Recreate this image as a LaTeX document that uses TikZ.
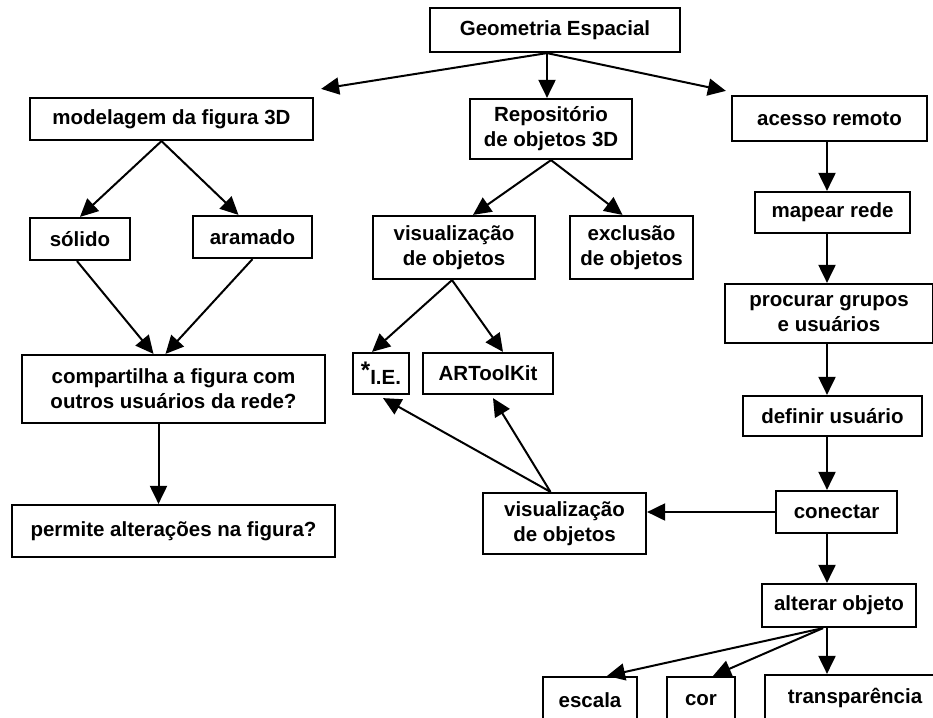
\documentclass[tikz,border=0pt]{standalone}
\usepackage{fontspec}
\setmainfont{Liberation Sans}
\usetikzlibrary{arrows.meta,calc}
\begin{document}
\begin{tikzpicture}[x=1pt,y=-1pt,
  box/.style={draw,line width=2.2pt,inner sep=0pt,align=center,
    font=\fontsize{20.5}{25}\selectfont\bfseries},
  arr/.style={line width=2pt,-{Triangle[length=18pt,width=17pt]}}]
\useasboundingbox (0,0) rectangle (933,717);
\clip (0,0) rectangle (933,717);
\fill[white] (0,0) rectangle (933,717);
\coordinate (colx) at (827,0);
% nodes
\node[box,minimum width=250,minimum height=44] (geo) at (555,30) {Geometria Espacial};
\node[box,minimum width=283,minimum height=42] (mod) at (171.5,119) {modelagem da figura 3D};
\node[box,minimum width=162,minimum height=60] (rep) at (551,129) {Repositório\\de objetos 3D};
\node[box,minimum width=195,minimum height=45] (ace) at (829.5,118.5) {acesso remoto};
\node[box,minimum width=100,minimum height=42] (sol) at (80,239) {sólido};
\node[box,minimum width=119,minimum height=42] (ara) at (252.5,237) {aramado};
\node[box,minimum width=162,minimum height=63] (vis1) at (454,247.5) {visualização\\de objetos};
\node[box,minimum width=123,minimum height=63] (exc) at (631.5,247.5) {exclusão\\de objetos};
\node[box,minimum width=155,minimum height=41] (map) at (832.5,212.5) {mapear rede};
\node[box,minimum width=208,minimum height=59] (pro) at (829,313.5) {procurar grupos\\e usuários};
\node[box,minimum width=303,minimum height=68] (comp) at (173.5,389) {compartilha a figura com\\outros usuários da rede?};
\node[box,minimum width=56,minimum height=41] (ie) at (381,373.5) {\raisebox{6pt}{\fontsize{24}{24}\selectfont *}I.E.};
\node[box,minimum width=130,minimum height=41] (art) at (488,373.5) {ARToolKit};
\node[box,minimum width=179,minimum height=40] (def) at (832.5,416) {definir usuário};
\node[box,minimum width=323,minimum height=52] (perm) at (173.5,531) {permite alterações na figura?};
\node[box,minimum width=163,minimum height=61] (vis2) at (564.5,523.5) {visualização\\de objetos};
\node[box,minimum width=121,minimum height=42] (con) at (836.5,512) {conectar};
\node[box,minimum width=154,minimum height=43] (alt) at (839,605.5) {alterar objeto};
\node[box,minimum width=94,minimum height=46] (esc) at (590,700) {escala};
\node[box,minimum width=68,minimum height=46] (cor) at (701,700) {cor};
\node[box,minimum width=180,minimum height=46] (tra) at (855,698) {transparência};
% connectors
\draw[arr] ($(geo.south)+(-8,0)$) -- ($(mod.north east)+(7,-8)$);
\draw[arr] ($(geo.south)+(-8,0)$) -- ($(rep.north)+(-4,0)$);
\draw[arr] ($(geo.south)+(-8,0)$) -- ($(ace.north west)+(-5,-4)$);
\draw[arr] ($(mod.south)+(-10,0)$) -- (sol.north);
\draw[arr] ($(mod.south)+(-10,0)$) -- ($(ara.north)+(-14,0)$);
\draw[arr] ($(sol.south)+(-3,0)$) -- ($(comp.north)+(-20,0)$);
\draw[arr] (ara.south) -- ($(comp.north)+(-8,0)$);
\draw[arr] ($(comp.south)+(-15,0)$) -- ($(perm.north)+(-15,0)$);
\draw[arr] (rep.south) -- ($(vis1.north)+(19,0)$);
\draw[arr] (rep.south) -- ($(exc.north)+(-9,0)$);
\draw[arr] ($(vis1.south)+(-2,0)$) -- ($(ie.north)+(-9,0)$);
\draw[arr] ($(vis1.south)+(-2,0)$) -- ($(art.north)+(15,0)$);
\draw[arr] ($(vis2.north)+(-14,0)$) -- ($(ie.south)+(2,3)$);
\draw[arr] ($(vis2.north)+(-14,0)$) -- ($(art.south)+(5,3)$);
\draw[arr] (ace.south -| colx) -- (map.north -| colx);
\draw[arr] (map.south -| colx) -- (pro.north -| colx);
\draw[arr] (pro.south -| colx) -- (def.north -| colx);
\draw[arr] (def.south -| colx) -- (con.north -| colx);
\draw[arr] (con.west) -- (con.west -| vis2.east);
\draw[arr] (con.south -| colx) -- (alt.north -| colx);
\draw[arr] ($(alt.south)+(-16,0)$) -- ($(esc.north)+(17,0)$);
\draw[arr] ($(alt.south)+(-16,0)$) -- ($(cor.north)+(12,0)$);
\draw[arr] (alt.south -| colx) -- (tra.north -| colx);
\end{tikzpicture}
\end{document}
